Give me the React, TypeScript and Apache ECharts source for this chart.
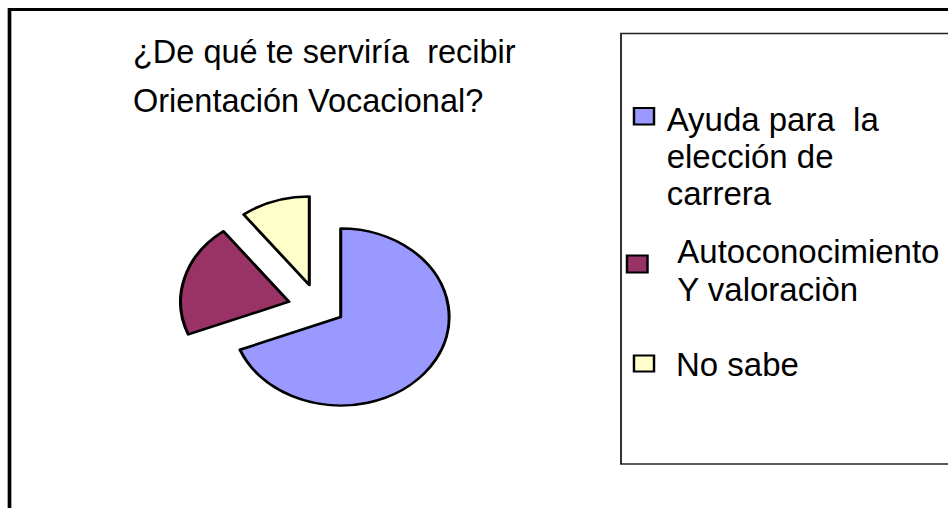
import React, { useEffect, useRef } from "react";
import * as echarts from "echarts";

const categories = ["Ayuda para  la elección de carrera", "Autoconocimiento Y valoraciòn", "No sabe"];
const values = [20, 6, 3];
const colors = ["#9999FF", "#993366", "#FFFFCC"];
const titleLines = ["¿De qué te serviría  recibir", "Orientación Vocacional?"];
const legendLines = [["Ayuda para  la", "elección de", "carrera"], ["Autoconocimiento", "Y valoraciòn"], ["No sabe"]];

const S = 1.225;
const W = 948;
const H = 508;
const CW = Math.round(W / S);

export default function App() {
  const ref = useRef<HTMLDivElement>(null);
  useEffect(() => {
    if (!ref.current) return;
    const chart = echarts.init(ref.current, null, { renderer: "svg" });
    const font = "'Liberation Sans', Arial, sans-serif";
    const centers: [number, number][] = [
      [340.7 / S, 317],
      [289 / S, 301.7],
      [309.3 / S, 285],
    ];
    const R = 88.5;
    const series = centers.map((c, k) => ({
      type: "pie",
      center: c,
      radius: R,
      startAngle: 90,
      clockwise: true,
      silent: true,
      z: 2,
      avoidLabelOverlap: false,
      label: { show: false },
      labelLine: { show: false },
      emphasis: { disabled: true, scale: false },
      data: values.map((v, i) => ({
        value: v,
        name: categories[i],
        itemStyle:
          i === k
            ? { color: colors[i], borderColor: "#000", borderWidth: 2.5, borderJoin: "round" }
            : { color: "rgba(0,0,0,0)", borderWidth: 0 },
      })),
    }));

    const textEl = (x: number, baseline: number, t: string, fs: number) => ({
      type: "text",
      x,
      y: baseline - 0.3465 * fs,
      scaleX: 1 / S,
      style: { text: t, font: `${fs}px ${font}`, fill: "#000", verticalAlign: "middle", align: "left" },
      silent: true,
    });

    const titleBase = [63.5, 112];
    const legendX = [[666.7, 666.7, 666.7], [677.3, 677.3], [676]];
    const legendBase = [[130.5, 168, 205], [262.5, 300.5], [375.5]];
    const markers = [
      [633, 107, 655, 125.5],
      [626, 254.5, 648.5, 273.5],
      [633, 354.5, 655, 372.5],
    ];

    const graphics: any[] = [];
    graphics.push({
      type: "polyline",
      shape: { points: [[9.5 / S, H + 10], [9.5 / S, 9.5], [CW + 10, 9.5]] },
      style: { stroke: "#000", lineWidth: 3, fill: null },
      silent: true,
    });
    graphics.push({
      type: "rect",
      shape: { x: 621 / S, y: 33.5, width: 400, height: 430.5 },
      style: { stroke: "#222", lineWidth: 1.5, fill: "#fff" },
      silent: true,
    });
    titleLines.forEach((t, i) => graphics.push(textEl(133 / S, titleBase[i], t, 32.5)));
    legendLines.forEach((lines, i) => {
      const m = markers[i];
      graphics.push({
        type: "rect",
        shape: { x: m[0] / S + 0.8, y: m[1] + 1, width: (m[2] - m[0]) / S - 1.6, height: m[3] - m[1] - 2 },
        style: { stroke: "#000", lineWidth: 2, fill: colors[i] },
        silent: true,
      });
      lines.forEach((t, j) => graphics.push(textEl(legendX[i][j] / S, legendBase[i][j], t, 33)));
    });

    chart.setOption({
      animation: false,
      backgroundColor: "#fff",
      graphic: graphics,
      series,
    });
    return () => chart.dispose();
  }, []);

  return (
    <div style={{ position: "fixed", left: 0, top: 0, width: W, height: H, overflow: "hidden", background: "#fff" }}>
      <div
        ref={ref}
        style={{ width: CW, height: H, transform: `scaleX(${S})`, transformOrigin: "0 0" }}
      />
    </div>
  );
}
